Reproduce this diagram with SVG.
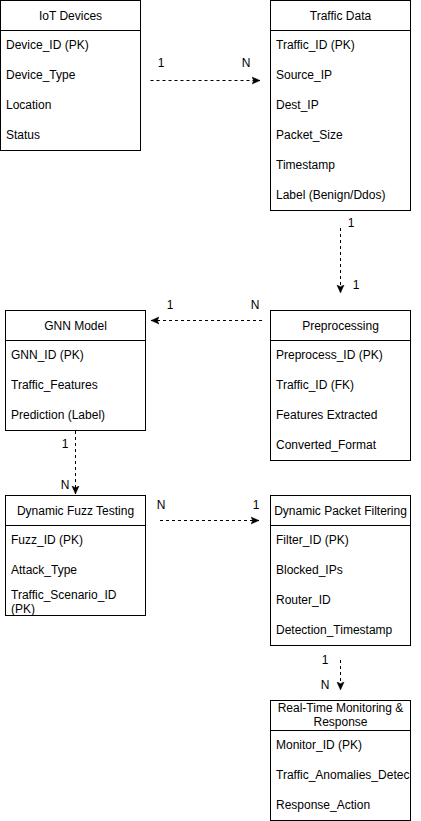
<svg xmlns="http://www.w3.org/2000/svg" width="421" height="821" viewBox="0 0 421 821">
<style>
.box{fill:#fff;stroke:#000;stroke-width:1}
.t{font-family:"Liberation Sans",Arial,sans-serif;font-size:12px;fill:#000}
.h{text-anchor:middle}
.c{fill:none;stroke:#000;stroke-width:1;stroke-dasharray:3 3;marker-end:url(#arr)}
</style>
<defs>
<marker id="arr" viewBox="0 0 10 10" refX="9" refY="5" markerWidth="9" markerHeight="9" markerUnits="userSpaceOnUse" orient="auto">
<path d="M0,1 L9,5 L0,9 L2,5 Z" fill="#000" stroke="#000" stroke-width="0.5"/>
</marker>
<clipPath id="clipRT"><rect x="270.5" y="700.5" width="140" height="120"/></clipPath>
</defs>
<rect width="421" height="821" fill="#fff"/>

<g id="iot-devices">
<rect class="box" x="0.5" y="0.5" width="140" height="150"/>
<line x1="0.5" y1="30.5" x2="140.5" y2="30.5" stroke="#000"/>
<text class="t h" x="70.5" y="19.5">IoT Devices</text>
<text class="t" x="6" y="48.5">Device_ID (PK)</text>
<text class="t" x="6" y="78.5">Device_Type</text>
<text class="t" x="6" y="108.5">Location</text>
<text class="t" x="6" y="138.5">Status</text>
</g>

<g id="traffic-data">
<rect class="box" x="270.5" y="0.5" width="140" height="210"/>
<line x1="270.5" y1="30.5" x2="410.5" y2="30.5" stroke="#000"/>
<text class="t h" x="340.5" y="19.5">Traffic Data</text>
<text class="t" x="276" y="48.5">Traffic_ID (PK)</text>
<text class="t" x="276" y="78.5">Source_IP</text>
<text class="t" x="276" y="108.5">Dest_IP</text>
<text class="t" x="276" y="138.5">Packet_Size</text>
<text class="t" x="276" y="168.5">Timestamp</text>
<text class="t" x="276" y="198.5">Label (Benign/Ddos)</text>
</g>

<g id="gnn-model">
<rect class="box" x="5.5" y="310.5" width="140" height="120"/>
<line x1="5.5" y1="340.5" x2="145.5" y2="340.5" stroke="#000"/>
<text class="t h" x="75.5" y="329.5">GNN Model</text>
<text class="t" x="11" y="358.5">GNN_ID (PK)</text>
<text class="t" x="11" y="388.5">Traffic_Features</text>
<text class="t" x="11" y="418.5">Prediction (Label)</text>
</g>

<g id="preprocessing">
<rect class="box" x="270.5" y="310.5" width="140" height="150"/>
<line x1="270.5" y1="340.5" x2="410.5" y2="340.5" stroke="#000"/>
<text class="t h" x="340.5" y="329.5">Preprocessing</text>
<text class="t" x="276" y="358.5">Preprocess_ID (PK)</text>
<text class="t" x="276" y="388.5">Traffic_ID (FK)</text>
<text class="t" x="276" y="418.5">Features Extracted</text>
<text class="t" x="276" y="448.5">Converted_Format</text>
</g>

<g id="dynamic-fuzz-testing">
<rect class="box" x="5.5" y="495.5" width="140" height="120"/>
<line x1="5.5" y1="525.5" x2="145.5" y2="525.5" stroke="#000"/>
<text class="t h" x="75.5" y="514.5">Dynamic Fuzz Testing</text>
<text class="t" x="11" y="543.5">Fuzz_ID (PK)</text>
<text class="t" x="11" y="573.5">Attack_Type</text>
<text class="t" x="11" y="599">Traffic_Scenario_ID</text>
<text class="t" x="11" y="613">(PK)</text>
</g>

<g id="dynamic-packet-filtering">
<rect class="box" x="270.5" y="495.5" width="140" height="150"/>
<line x1="270.5" y1="525.5" x2="410.5" y2="525.5" stroke="#000"/>
<text class="t h" x="340.5" y="514.5">Dynamic Packet Filtering</text>
<text class="t" x="276" y="543.5">Filter_ID (PK)</text>
<text class="t" x="276" y="573.5">Blocked_IPs</text>
<text class="t" x="276" y="603.5">Router_ID</text>
<text class="t" x="276" y="633.5">Detection_Timestamp</text>
</g>

<g id="real-time-monitoring">
<rect class="box" x="270.5" y="700.5" width="140" height="120"/>
<line x1="270.5" y1="730.5" x2="410.5" y2="730.5" stroke="#000"/>
<text class="t h" x="340.5" y="712">Real-Time Monitoring &amp;</text>
<text class="t h" x="340.5" y="726">Response</text>
<g clip-path="url(#clipRT)">
<text class="t" x="276" y="748.5">Monitor_ID (PK)</text>
<text class="t" x="276" y="778.5">Traffic_Anomalies_Detec</text>
<text class="t" x="276" y="808.5">Response_Action</text>
</g>
</g>

<g id="connectors">
<path class="c" d="M150.5,80.5 H260"/>
<text class="t h" x="161" y="67">1</text>
<text class="t h" x="246" y="67">N</text>

<path class="c" d="M340.5,228 V293"/>
<text class="t h" x="351" y="227">1</text>
<text class="t h" x="356" y="289">1</text>

<path class="c" d="M262,320.5 H151"/>
<text class="t h" x="170" y="309">1</text>
<text class="t h" x="255" y="309">N</text>

<path class="c" d="M75.5,431 V494"/>
<text class="t h" x="65" y="448">1</text>
<text class="t h" x="65" y="489">N</text>

<path class="c" d="M160,520.5 H259"/>
<text class="t h" x="161" y="509">N</text>
<text class="t h" x="256" y="509">1</text>

<path class="c" d="M340.5,660 V690"/>
<text class="t h" x="325" y="664">1</text>
<text class="t h" x="325" y="689">N</text>
</g>
</svg>
